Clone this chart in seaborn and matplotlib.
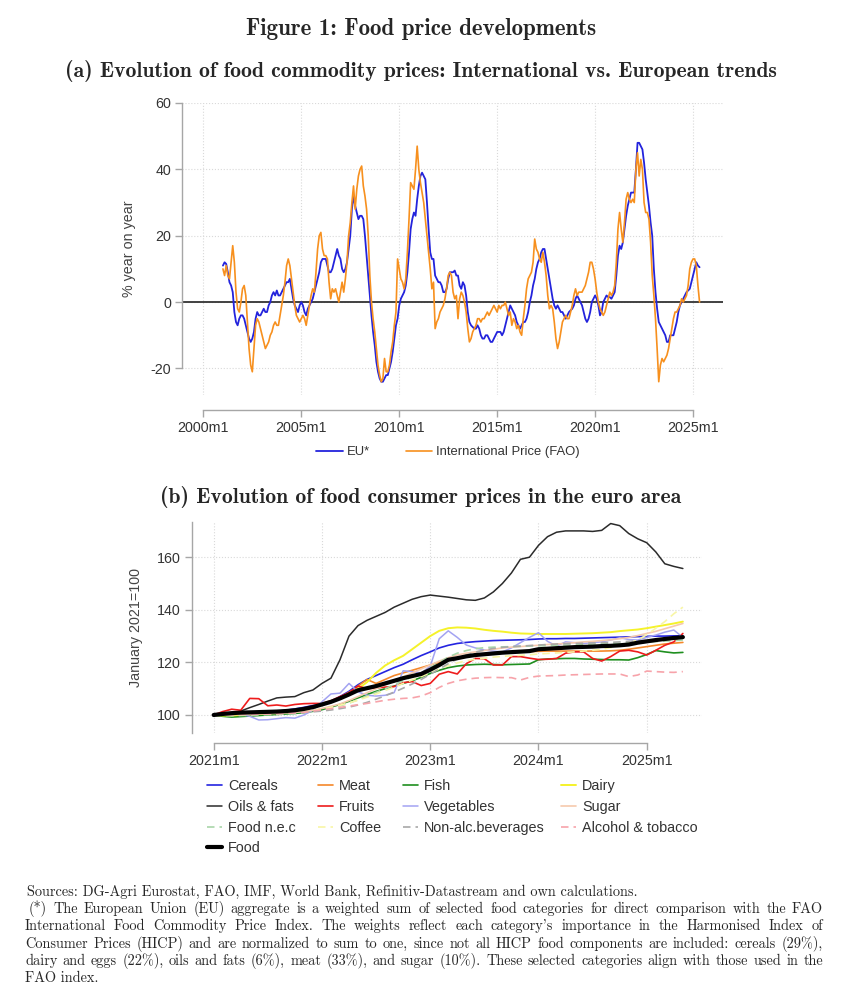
import numpy as np
import matplotlib
matplotlib.use("Agg")
import matplotlib.pyplot as plt
import seaborn as sns

# ===============================
# Data
# ===============================

# (a) year-on-year change, monthly from 2001m1
eu_yoy = [
    11, 12, 11.5, 9, 6, 5, 3, -3, -6, -7, -5, -4,
    -4, -5, -7, -9, -11, -12, -11, -9, -5, -3, -4, -4,
    -3, -2, -3, -3, -1, 0, 2, 3, 2, 3.5, 2, 2,
    3, 4, 5, 6, 6, 7, 4, 1, -1, -2, -3, -1,
    0, -1, -3, -4, -2, -1, 0, 1, 3, 5, 7, 9,
    12, 13, 13, 13, 11, 9, 9, 10, 12, 14, 16, 14,
    13, 10, 9, 10, 12, 16, 20, 28, 32, 29, 27, 25,
    26, 26, 25, 20, 14, 8, 2, -4, -9, -13, -18, -21,
    -23, -24, -24, -23, -22, -22, -20, -18, -15, -11, -7, -5,
    -1, 1, 2, 3, 5, 9, 15, 22, 25, 27, 26, 31,
    35, 38, 39, 38, 37, 30, 22, 15, 13, 13, 8, 7,
    6, 6, 5, 3, 3, 4, 7, 9, 9, 9, 9.5, 8,
    8, 5, 4, 6, 5, 2, -3, -6, -7, -7.5, -8, -8,
    -7, -8, -10, -11, -11, -10, -10, -11, -12, -12, -11, -10,
    -9, -9, -9, -10, -9, -7, -5, -3, -1, -2, -3, -4,
    -6, -7, -8, -7, -6, -6, -5, -3, 0, 2, 5, 7,
    10, 12, 13, 15, 16, 16, 13, 10, 7, 4, 1, -1,
    -2, -1, -2, -3, -3, -4, -5, -4, -3, -2.5, -2, -1,
    1, 2, 1, 0, -1, -3, -5, -6, -5, -3, 0, 1,
    2, 1, -1, -4, -3, 0, 1, 2, 1.5, 1.5, 1, 2,
    3, 8, 14, 17, 16, 18, 22, 26, 29, 31, 33, 33,
    33, 40, 48, 48, 47, 46, 42, 37, 33, 29, 24, 20,
    10, 3, -2, -6, -7, -8, -9, -10, -12, -12, -10, -10,
    -10, -8, -6, -3, -1, 0, 1, 2, 3, 3.5, 4, 6,
    8, 10, 12, 11, 10.5,
]
fao_yoy = [
    10, 8, 11, 8, 7, 12, 17, 12, 3, -2, -3, 0,
    4, 5, 2, -6, -14, -19, -21, -14, -7, -5, -6, -8,
    -10, -12, -14, -13, -12, -10, -9, -7, -6, -7, -7, -4,
    -1, 2, 6, 11, 13, 11, 7, 3, -1, -4, -5, -6,
    -5, -4, -5, -7, -4, -1, 2, 4, 3, 9, 16, 20,
    21, 16, 14, 14, 13, 6, 1, 4, 3, 4, 2, 0,
    3, 6, 3, 7, 12, 20, 24, 30, 35, 28, 34, 38,
    40, 41, 35, 32, 28, 20, 8, 0, -5, -9, -14, -19,
    -22, -24, -23, -17, -21, -21, -19, -15, -12, -7, -3, 13,
    10, 7, 6, 4, 7, 15, 25, 36, 35, 34, 40, 47,
    40, 36, 33, 30, 25, 20, 15, 10, 4, 6, -8, -6,
    -5, -3, -2, -1, 1, 4, 8, 9, 8, 3, 1, 2,
    -5, 1, 3, 2, 0, -3, -8, -12, -11, -9, -8, -7,
    -5, -5, -6, -5, -5, -4, -3, -4, -3, -2, -1, -2,
    -3, -1, -2, -1, -1, 0, -2, -4, -3, -7, -5, -6,
    -8, -7, -9, -10, -5, -1, 4, 7, 8, 9, 12, 19,
    16, 15, 13, 12, 15, 12, 8, 2, -2, -1, -2, -6,
    -11, -14, -12, -9, -6, -5, -4, -5, -5, -3, -1, 2,
    4, 2, 3, 3, 3, 4, 5, 7, 9, 12, 12, 10,
    7, 3, 0, -2, -3, -4, -3, -1, 1, 3, 2, 3,
    5, 12, 22, 27, 22, 18, 24, 31, 33, 31, 30, 31,
    30, 40, 45, 38, 43, 40, 30, 27, 27, 25, 18, 8,
    2, -5, -14, -24, -19, -17, -18, -17, -16, -14, -11, -8,
    -5, -3, -3, -2, -1, 1, 0, 1, 2, 5, 10, 12,
    13, 13, 11, 5, 0,
]
a_start_year = 2001
a_ticks = [2000, 2005, 2010, 2015, 2020, 2025]
a_yticks = [-20, 0, 20, 40, 60]

# (b) consumer price indices, January 2021 = 100, monthly from 2021m1
cereals = [100, 100.2, 100.4, 100.6, 100.8, 101, 101.2, 101.4, 101.8, 102.3, 102.9, 103.6,
           104, 105.2, 107, 109, 111.5, 113.5, 115, 116.5, 118, 119.3, 121, 122.6,
           124, 125.5, 126.5, 127.2, 127.6, 127.9, 128.1, 128.3, 128.4, 128.5, 128.6, 128.7,
           128.9, 129, 129, 129.1, 129.1, 129.2, 129.3, 129.4, 129.5, 129.6, 129.7, 129.8,
           129.9, 130, 130, 130.1, 130.1]
meat = [100, 100.2, 100.4, 100.5, 100.6, 100.7, 100.8, 100.9, 101.1, 101.5, 102, 102.8,
        103.8, 105, 106.5, 108.5, 111, 113.5, 112, 113.5, 115, 116, 117, 118,
        119, 120, 121, 121.8, 122.4, 122.9, 123.2, 123.5, 123.7, 123.9, 124, 124.1,
        124.2, 124.3, 124.3, 124.3, 124.3, 124.3, 124.3, 124.3, 124.4, 124.6, 125, 125.5,
        126, 126.5, 127, 127.3, 127.6]
fish = [100, 99.5, 99.2, 99.4, 99.6, 99.8, 100, 100.2, 100.4, 100.6, 100.9, 101.4,
        102, 103, 104, 105.2, 106.5, 107.8, 109, 110, 111, 112, 113, 114.3,
        115.8, 117, 118, 118.6, 119, 119.2, 119.3, 119.2, 119.1, 119.2, 119.3, 119.4,
        121, 121.3, 121.4, 121.5, 121.5, 121.3, 121.2, 121.1, 121, 121, 120.9, 121.8,
        123, 124.5, 124, 123.6, 123.8]
dairy = [100, 99.8, 99.8, 100, 100.2, 100.4, 100.6, 100.9, 101.2, 101.6, 102.2, 103,
         104, 105, 106.5, 108.5, 110, 112.5, 116, 118.8, 120.8, 122.5, 125, 127.5,
         130, 132, 133, 133.3, 133.2, 132.9, 132.4, 132, 131.7, 131.3, 131, 130.9,
         130.8, 130.8, 130.8, 130.8, 130.9, 131, 131.1, 131.3, 131.5, 131.9, 132.2, 132.5,
         133, 133.6, 134.2, 134.8, 135.5]
oils_fats = [100, 100.2, 100.5, 101.5, 102.8, 104, 105.3, 106.5, 106.8, 107, 108.5, 109.5,
             112, 114, 121, 130, 134, 136, 137.5, 139, 141, 142.5, 144, 145,
             145.6, 145.2, 144.8, 144.3, 143.8, 143.6, 144.5, 146.8, 150, 154, 159.2, 160,
             164.5, 167.8, 169.5, 170, 170, 170, 169.8, 170.2, 172.8, 172, 169, 167,
             165.5, 162, 157.5, 156.5, 155.7]
fruits = [100, 101.3, 102.2, 101.8, 106.3, 106.2, 103.5, 103.8, 103.4, 104, 104.3, 104.4,
          104.4, 105.4, 107, 108.5, 111, 110, 110.3, 110.6, 110.8, 112.3, 112.7, 111.2,
          112, 115.5, 116.5, 115.6, 119.5, 121.5, 121.4, 119, 119, 122.2, 122.2, 121.6,
          121.1, 121.2, 121.5, 123.5, 124, 124, 121.5, 120.5, 122.2, 124.3, 124.6, 124,
          122.8, 124.6, 126.5, 127.8, 131]
vegetables = [100, 100.3, 100.5, 100.2, 99.5, 98.1, 98.2, 98.6, 99, 98.8, 100, 101.8,
              105, 108, 108.3, 112, 108.8, 107.5, 107.2, 107.5, 108.5, 116.8, 116.5, 116,
              118.5, 129, 132, 129.5, 126.6, 125.5, 124.7, 124.3, 124, 125.5, 127.5, 129.5,
              131.3, 128, 126.2, 127.8, 127.5, 127.2, 127.5, 127.8, 128.5, 129.4, 128.7, 128.5,
              129.5, 130.4, 131.5, 132.3, 129.5]
sugar = [100, 100, 100.1, 100.2, 100.3, 100.4, 100.5, 100.6, 100.8, 101, 101.3, 101.8,
         102.5, 103.3, 104.2, 105.5, 107, 108.5, 110, 111.5, 113, 114.5, 116, 117.5,
         119, 120.5, 121.8, 122.8, 123.5, 124, 124.5, 125, 125.5, 125.8, 126, 126.3,
         126.5, 126.8, 127, 127.2, 127.5, 127.8, 128, 128.3, 128.6, 129, 129.5, 130.2,
         131, 131.8, 132.8, 133.8, 134.8]
food_nec = [100, 99.8, 99.7, 99.8, 99.9, 100, 100.1, 100.2, 100.4, 100.6, 101, 101.4,
            102, 102.7, 103.5, 104.5, 105.8, 107.2, 108.6, 110, 111.5, 113, 114.5, 116,
            118, 120, 122, 123.5, 124.5, 125.2, 125.6, 125.8, 125.9, 126, 126.1, 126.2,
            126.3, 126.4, 126.5, 126.6, 126.7, 126.8, 127, 127.1, 127.2, 127.3, 127.4, 127.5,
            127.7, 127.9, 128.1, 128.3, 128.5]
coffee = [100, 100, 100, 100.1, 100.2, 100.3, 100.4, 100.5, 100.7, 101, 101.3, 101.7,
          102.2, 102.9, 103.7, 104.6, 105.6, 106.8, 108, 109.3, 110.6, 112, 113.3, 114.6,
          116, 117.5, 118.8, 119.8, 120.6, 121.2, 121.6, 122, 122.3, 122.5, 122.7, 122.9,
          123.2, 123.4, 123.6, 123.8, 124, 124.3, 124.6, 125, 125.6, 126.4, 127.4, 128.5,
          130.5, 133, 135.5, 138.5, 141]
non_alc = [100, 100.1, 100.2, 100.3, 100.4, 100.5, 100.6, 100.7, 100.8, 100.9, 101, 101.2,
           101.5, 101.9, 102.4, 103, 103.8, 104.8, 106, 107.3, 108.7, 110.2, 111.8, 113.5,
           115.5, 117.5, 119.5, 121.3, 122.8, 123.9, 124.7, 125.3, 125.7, 126, 126.2, 126.4,
           126.6, 126.8, 127, 127.1, 127.2, 127.3, 127.4, 127.5, 127.6, 127.8, 128, 128.2,
           128.4, 128.6, 128.8, 129, 129.2]
alcohol_tobacco = [100, 100, 100.1, 100.2, 100.2, 100.3, 100.4, 100.5, 100.6, 100.8, 101, 101.5,
                   102, 102.4, 102.9, 103.4, 103.9, 104.4, 105, 105.6, 106, 106.3, 106.5, 107.2,
                   108.5, 110.5, 112, 113, 113.6, 114, 114.2, 114.3, 114.2, 114.2, 113.3, 114.3,
                   114.8, 114.9, 115, 115.2, 115.3, 115.4, 115.5, 115.6, 115.6, 115.6, 114.6, 115.2,
                   116.7, 116.5, 116.3, 116.2, 116.5]
food = [100, 100.4, 100.7, 100.9, 101, 101.1, 101.2, 101.3, 101.5, 101.8, 102.3, 103,
        104, 105, 106.3, 107.8, 109.4, 110.2, 111, 112, 113, 114, 114.8, 115.6,
        117.2, 119, 121, 121.6, 122.3, 122.8, 123.1, 123.4, 123.7, 123.9, 124.1, 124.3,
        125, 125.2, 125.4, 125.6, 125.8, 125.9, 126, 126.2, 126.3, 126.5, 126.8, 127.5,
        128, 128.5, 128.9, 129.3, 129.6]
b_start_year = 2021
b_ticks = [2021, 2022, 2023, 2024, 2025]
b_yticks = [100, 120, 140, 160]

# ===============================
# Style
# ===============================
W, H = 866, 1000
sns.set_theme(style="ticks")
plt.rcParams['font.family'] = ['Liberation Sans', 'DejaVu Sans']
plt.rcParams['axes.unicode_minus'] = False
SERIF = ['cmr10', 'DejaVu Serif']
SERIF_B = ['cmb10', 'DejaVu Serif']
AX_COL = "#a6a6a6"
TXT_COL = "#333333"
FS = 10.3


def fig_box(left, top, right, bottom):
    return [left / W, 1 - bottom / H, (right - left) / W, (bottom - top) / H]


def style_axes(ax, xticks, xlabels, yticks, xbounds, ybounds, drop):
    ax.set_xticks(xticks)
    ax.set_xticklabels(xlabels)
    ax.set_yticks(yticks)
    ax.set_yticklabels([str(v) for v in yticks])
    ax.grid(True, ls=':', lw=0.8, color="#d9d9d9")
    ax.set_axisbelow(True)
    for s in ["top", "right"]:
        ax.spines[s].set_visible(False)
    for s in ["left", "bottom"]:
        ax.spines[s].set_color(AX_COL)
        ax.spines[s].set_linewidth(1.0)
    ax.spines["bottom"].set_position(("outward", drop))
    ax.spines["bottom"].set_bounds(*xbounds)
    if ybounds is not None:
        ax.spines["left"].set_bounds(*ybounds)
    ax.tick_params(direction="out", length=5, width=1.0, color=AX_COL,
                   labelcolor=TXT_COL, labelsize=FS, pad=3)
    ax.set_xlabel("")


fig = plt.figure(figsize=(W / 100, H / 100), dpi=100)

fig.text(421 / W, 1 - 29 / H, "Figure 1: Food price developments", family=SERIF_B,
         fontsize=16.5, ha="center", va="center")
fig.text(421 / W, 1 - 71 / H,
         "(a) Evolution of food commodity prices: International vs. European trends",
         family=SERIF_B, fontsize=15.6, ha="center", va="center")
fig.text(421 / W, 1 - 497 / H, "(b) Evolution of food consumer prices in the euro area",
         family=SERIF_B, fontsize=15.6, ha="center", va="center")

# ===============================
# Panel (a)
# ===============================
ax1 = fig.add_axes(fig_box(182, 103, 723, 395))
t_a = a_start_year + np.arange(len(eu_yoy)) / 12
ax1.axhline(0, color="#333333", lw=1.3, zorder=1)
sns.lineplot(x=t_a, y=eu_yoy, ax=ax1, color="#2323dc", lw=1.3, label="EU*")
sns.lineplot(x=t_a, y=fao_yoy, ax=ax1, color="#f7901e", lw=1.2,
             label="International Price (FAO)")
ax1.set_xlim(1998.91, 2026.53)
ax1.set_ylim(-28, 60)
style_axes(ax1, a_ticks, [f"{y}m1" for y in a_ticks], a_yticks,
           (a_ticks[0], a_ticks[-1]), (a_yticks[0], a_yticks[-1]), 10.7)
ax1.set_ylabel("% year on year", color="#444444", fontsize=FS, labelpad=10)
h, l = ax1.get_legend_handles_labels()
ax1.get_legend().remove()
fig.legend(h, l, loc="center", bbox_to_anchor=(448 / W, 1 - 452 / H), ncol=2,
           frameon=False, fontsize=9.4, handlelength=2.05, handletextpad=0.3,
           columnspacing=2.75, labelcolor=TXT_COL)

# ===============================
# Panel (b)
# ===============================
ax2 = fig.add_axes(fig_box(192, 521.7, 702, 733.4))
t_b = b_start_year + np.arange(len(food)) / 12
DASH = (0, (4.5, 3))
series_b = [
    ("Cereals", cereals, "#2424e0", "-", 1.2),
    ("Meat", meat, "#f5882a", "-", 1.2),
    ("Fish", fish, "#1f8f1f", "-", 1.2),
    ("Dairy", dairy, "#f5f22a", "-", 1.4),
    ("Oils & fats", oils_fats, "#2b2b2b", "-", 1.1),
    ("Fruits", fruits, "#ee1c1c", "-", 1.2),
    ("Vegetables", vegetables, "#a3a3f2", "-", 1.1),
    ("Sugar", sugar, "#f6c9ad", "-", 1.2),
    ("Food n.e.c", food_nec, "#a9d6a9", DASH, 1.2),
    ("Coffee", coffee, "#f8f6a6", DASH, 1.2),
    ("Non-alc.beverages", non_alc, "#a8a8a8", DASH, 1.2),
    ("Alcohol & tobacco", alcohol_tobacco, "#f7a3aa", DASH, 1.2),
    ("Food", food, "#000000", "-", 3.0),
]
for name, vals, col, ls, lw in series_b:
    sns.lineplot(x=t_b, y=vals, ax=ax2, color=col, linestyle=ls, lw=lw, label=name)
ax2.set_xlim(2020.80, 2025.51)
ax2.set_ylim(93, 173.5)
style_axes(ax2, b_ticks, [f"{y}m1" for y in b_ticks], b_yticks,
           (b_ticks[0], b_ticks[-1]), None, 6.6)
ax2.set_ylabel("January 2021=100", color="#444444", fontsize=FS, labelpad=10)
hb, lb = ax2.get_legend_handles_labels()
ax2.get_legend().remove()
hmap = dict(zip(lb, hb))

# four legend columns, placed like the original's row-major grid
cols_b = [
    (207, ["Cereals", "Oils & fats", "Food n.e.c", "Food"]),
    (318, ["Meat", "Fruits", "Coffee"]),
    (403, ["Fish", "Vegetables", "Non-alc.beverages"]),
    (561, ["Dairy", "Sugar", "Alcohol & tobacco"]),
]
for cx, names in cols_b:
    fig.legend([hmap[n] for n in names], names, loc="upper left",
               bbox_to_anchor=(cx / W, 1 - 779 / H), frameon=False,
               fontsize=10.4, handlelength=1.05, handletextpad=0.42,
               labelspacing=0.47, borderpad=0, borderaxespad=0,
               labelcolor=TXT_COL)

# ===============================
# Footnote (justified like the LaTeX source)
# ===============================
notes = [
    ("Sources: DG-Agri Eurostat, FAO, IMF, World Bank, Refinitiv-Datastream and own calculations.", 27, False),
    ("(*) The European Union (EU) aggregate is a weighted sum of selected food categories for direct comparison with the FAO", 29, True),
    ("International Food Commodity Price Index.  The weights reflect each category's importance in the Harmonised Index of", 25, True),
    ("Consumer Prices (HICP) and are normalized to sum to one, since not all HICP food components are included: cereals (29%),", 25, True),
    ("dairy and eggs (22%), oils and fats (6%), meat (33%), and sugar (10%).  These selected categories align with those used in the", 25, True),
    ("FAO index.", 25, False),
]
renderer = fig.canvas.get_renderer()
right_edge = 823
y = 891.5
for text, x0, justify in notes:
    if not justify:
        fig.text(x0 / W, 1 - y / H, text, family=SERIF, fontsize=10.3, va="center")
    else:
        words = text.split()
        objs = [fig.text(0, 1 - y / H, w, family=SERIF, fontsize=10.3, va="center")
                for w in words]
        widths = [o.get_window_extent(renderer).width for o in objs]
        gap = (right_edge - x0 - sum(widths)) / (len(words) - 1)
        x = x0
        for o, wd in zip(objs, widths):
            o.set_x(x / W)
            x += wd + gap
    y += 17.4

fig.savefig("out.png", dpi=100)
